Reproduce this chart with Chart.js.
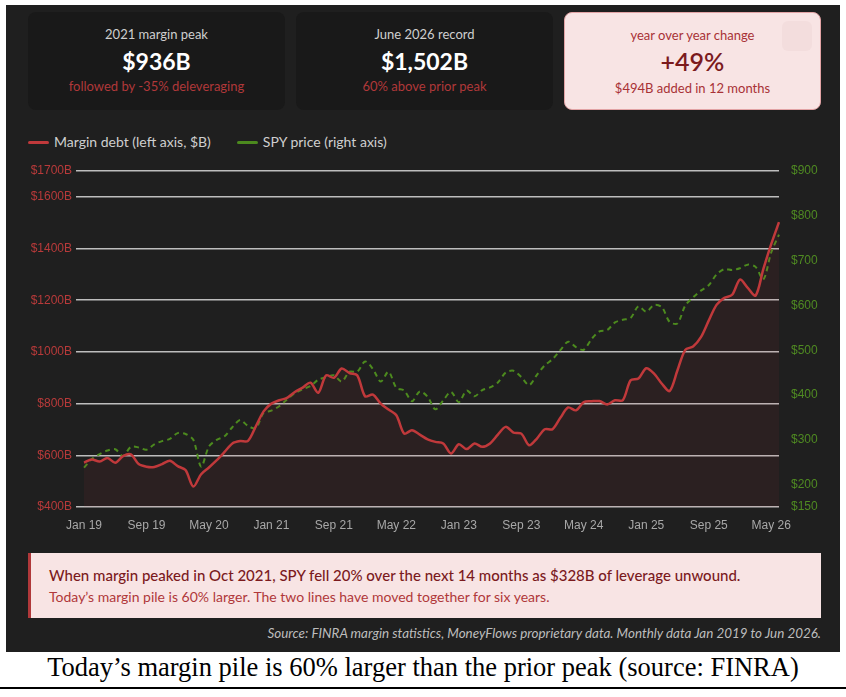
<!DOCTYPE html>
<html>
<head>
<meta charset="utf-8">
<script src="https://cdn.jsdelivr.net/npm/chart.js@4.4.1/dist/chart.umd.min.js"></script>
<style>
  body { margin: 0; background: #fff; width: 846px; height: 697px; position: relative; overflow: hidden; font-family: Lato, "Open Sans", sans-serif; }
  #panel { position: absolute; left: 6px; top: 5px; width: 834px; height: 647px; background: #1f1f1f; }
  .card { position: absolute; top: 12px; width: 257px; height: 98px; background: #191919; border-radius: 8px; text-align: center; box-sizing: border-box; }
  .card .t { position: absolute; left: 0; right: 0; top: 13px; font-size: 13px; color: #cfcfcf; line-height: 18px; }
  .card .v { position: absolute; left: 0; right: 0; top: 35px; font-size: 23px; font-weight: 700; color: #fff; line-height: 28px; }
  .card .s { position: absolute; left: 0; right: 0; top: 65px; font-size: 13px; color: #b0383a; line-height: 18px; }
  .card.hot { background: #f8e4e4; border: 1px solid #e2a3a5; }
  .card.hot .t { color: #a83236; top: 13px; }
  .card.hot .v { color: #7b1a1d; font-weight: 600; font-size: 25px; top: 34px; }
  .card.hot .s { color: #a83236; top: 66px; }
  .card .btn { position: absolute; left: 217px; top: 8px; width: 30px; height: 30px; border-radius: 6px; background: #f3dddd; }
  #legend { position: absolute; top: 133px; left: 28px; font-size: 14px; color: #cfcfcf; line-height: 18px; white-space: nowrap; }
  #legend span.sw { display: inline-block; width: 21px; height: 3px; border-radius: 2px; vertical-align: middle; margin-right: 5px; position: relative; top: -1px; }
  #legend span.item { margin-right: 26px; }
  #wrap { position: absolute; left: 20px; top: 155px; width: 810px; height: 385px; }
  #note { position: absolute; left: 28px; top: 553px; width: 793px; height: 65px; background: #f8e4e4; border-left: 3px solid #b0383a; box-sizing: border-box; }
  #note .a { position: absolute; left: 18px; top: 13px; font-size: 15px; font-weight: 500; color: #7b1a1d; white-space: nowrap; }
  #note .b { position: absolute; left: 18px; top: 35px; font-size: 14px; color: #b0383a; white-space: nowrap; }
  #src { position: absolute; right: 25px; top: 625px; font-size: 13.4px; font-style: italic; color: #bdbdbd; white-space: nowrap; }
  #cap { position: absolute; left: 0; width: 846px; top: 652px; text-align: center; font-family: "Liberation Serif", "Times New Roman", serif; font-size: 26.5px; color: #000; }
  #rule { position: absolute; left: 0; width: 846px; top: 687px; height: 1.5px; background: #000; }
</style>
</head>
<body>
<div id="panel"></div>
<div class="card" style="left:28px"><div class="t">2021 margin peak</div><div class="v">$936B</div><div class="s">followed by -35% deleveraging</div></div>
<div class="card" style="left:296px"><div class="t">June 2026 record</div><div class="v">$1,502B</div><div class="s">60% above prior peak</div></div>
<div class="card hot" style="left:564px"><div class="btn"></div><div class="t">year over year change</div><div class="v">+49%</div><div class="s">$494B added in 12 months</div></div>
<div id="legend"><span class="item"><span class="sw" style="background:#c0393b"></span>Margin debt (left axis, $B)</span><span class="item"><span class="sw" style="background:#4c8a1e"></span>SPY price (right axis)</span></div>
<div id="wrap"><canvas id="chart" width="810" height="385"></canvas></div>
<div id="note"><div class="a">When margin peaked in Oct 2021, SPY fell 20% over the next 14 months as $328B of leverage unwound.</div><div class="b">Today’s margin pile is 60% larger. The two lines have moved together for six years.</div></div>
<div id="src">Source: FINRA margin statistics, MoneyFlows proprietary data. Monthly data Jan 2019 to Jun 2026.</div>
<div id="cap">Today’s margin pile is 60% larger than the prior peak (source: FINRA)</div>
<div id="rule"></div>
<script>
// Monthly categories, Jan 2019 .. Jun 2026
const monthNames = ["Jan", "Feb", "Mar", "Apr", "May", "Jun", "Jul", "Aug", "Sep", "Oct", "Nov", "Dec"];
const months = [];
for (let y = 19; y <= 26; y++) {
    for (let m = 0; m < 12; m++) {
        if (y === 26 && m > 5) break;
        months.push(monthNames[m] + " " + y);
    }
}

// Margin debt, $B (left axis)
const marginDebt = [572,584,576,590,571,597,604,566,556,555,
    566,579,558,543,479,527,553,581,613,646,
    655,656,712,770,800,813,822,845,862,881,
    842,909,900,936,918,909,828,835,800,777,
    755,684,697,680,662,652,646,607,643,624,
    646,633,646,680,710,688,684,639,665,701,
    701,745,785,774,806,809,810,797,813,813,
    890,897,937,916,877,849,929,1008,1021,1057,
    1121,1182,1209,1221,1280,1248,1218,1321,1417,1502];

// SPY price, $ (right axis)
const spyPrice = [238,257,268,276,279,264,284,283,278,290,
    297,302,315,313,300,240,285,300,308,328,
    344,331,326,360,365,375,390,404,413,420,
    434,440,444,430,452,452,475,458,430,452,
    416,410,386,408,396,368,388,407,384,410,
    397,411,417,428,450,454,440,422,445,466,
    480,500,519,507,501,525,542,545,562,568,
    572,598,586,601,596,563,560,600,618,633,
    645,669,681,679,683,691,686,658,718,758];

const leftTicks = [400, 600, 800, 1000, 1200, 1400, 1600, 1700];
const rightTicks = [150, 200, 300, 400, 500, 600, 700, 800, 900];

const ctx = document.getElementById("chart").getContext("2d");
new Chart(ctx, {
    type: "line",
    data: {
        labels: months,
        datasets: [{
            label: "Margin debt (left axis, $B)",
            data: marginDebt,
            yAxisID: "y",
            borderColor: "#c0393b",
            borderWidth: 2.5,
            backgroundColor: "rgba(192, 57, 59, 0.08)",
            fill: "start",
            tension: 0.3,
            pointRadius: 0
        }, {
            label: "SPY price (right axis)",
            data: spyPrice,
            yAxisID: "y1",
            borderColor: "#4c8a1e",
            borderWidth: 2,
            borderDash: [5, 4],
            fill: false,
            tension: 0.3,
            pointRadius: 0
        }]
    },
    options: {
        responsive: false,
        animation: false,
        layout: { padding: { top: 16, left: 0, right: 0, bottom: 0 } },
        plugins: { legend: { display: false }, tooltip: { enabled: false } },
        scales: {
            x: {
                grid: { display: false },
                border: { display: false },
                afterFit: s => { s.height = 33; },
                ticks: {
                    autoSkip: false,
                    maxRotation: 0,
                    padding: 3,
                    color: "#a8a8a8",
                    font: { family: "Liberation Sans, Arial", size: 12 },
                    callback: (v, i) => (i % 8 === 0 ? months[i] : null)
                }
            },
            y: {
                position: "left",
                min: 400,
                max: 1700,
                afterBuildTicks: s => { s.ticks = leftTicks.map(v => ({ value: v })); },
                afterFit: s => { s.width = 64; },
                grid: { color: "#bdbdbd", lineWidth: 1.5, tickLength: 8 },
                border: { display: false },
                ticks: {
                    padding: 4,
                    color: "#b83a3a",
                    font: { family: "Liberation Sans, Arial", size: 12 },
                    callback: v => "$" + v + "B"
                }
            },
            y1: {
                position: "right",
                min: 150,
                max: 900,
                afterBuildTicks: s => { s.ticks = rightTicks.map(v => ({ value: v })); },
                afterFit: s => { s.width = 51; },
                grid: { display: false },
                border: { display: false },
                ticks: {
                    padding: 4,
                    color: "#4f8a22",
                    font: { family: "Liberation Sans, Arial", size: 12 },
                    callback: v => "$" + v
                }
            }
        }
    }
});
</script>
</body>
</html>
